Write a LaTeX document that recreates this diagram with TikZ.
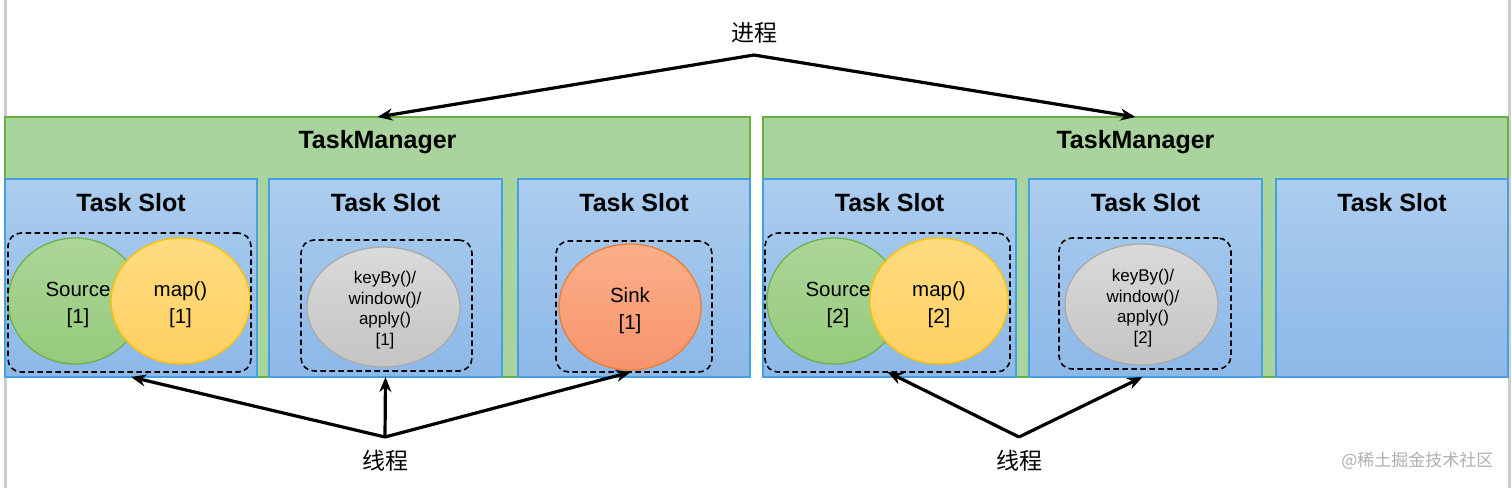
\documentclass[tikz,border=0pt]{standalone}
\usepackage{fontspec}
\setmainfont{Liberation Sans}
\newfontfamily\cjk{Noto Sans CJK SC}
\usetikzlibrary{shapes.geometric,arrows.meta}
\definecolor{tmfill}{RGB}{170,212,158}
\definecolor{tmline}{RGB}{106,172,70}
\definecolor{slottop}{RGB}{172,205,238}
\definecolor{slotbot}{RGB}{140,184,232}
\definecolor{slotline}{RGB}{70,160,222}
\definecolor{srctop}{RGB}{172,214,152}
\definecolor{srcbot}{RGB}{150,202,124}
\definecolor{srcline}{RGB}{110,176,74}
\definecolor{maptop}{RGB}{255,220,128}
\definecolor{mapbot}{RGB}{255,208,98}
\definecolor{mapline}{RGB}{255,192,0}
\definecolor{graytop}{RGB}{218,218,218}
\definecolor{graybot}{RGB}{196,196,196}
\definecolor{grayline}{RGB}{170,170,170}
\definecolor{sinktop}{RGB}{251,175,138}
\definecolor{sinkbot}{RGB}{247,148,108}
\definecolor{sinkline}{RGB}{237,125,49}
\definecolor{edgegray}{RGB}{205,205,205}
\definecolor{wmgray}{RGB}{175,175,175}
\tikzset{
  tmbox/.style={draw=tmline, fill=tmfill, line width=1.2pt, inner sep=0pt, outer sep=0pt, anchor=north west},
  slotbox/.style={draw=slotline, top color=slottop, bottom color=slotbot, line width=1.2pt, inner sep=0pt, outer sep=0pt, anchor=north west},
  groupbox/.style={draw=black, dash pattern=on 5.5pt off 3.5pt, line width=1.6pt, rounded corners=13pt, inner sep=0pt, outer sep=0pt, anchor=north west},
  opnode/.style={ellipse, line width=1.3pt, inner sep=0pt, outer sep=0pt},
  optext/.style={align=center, font=\fontsize{20.5}{27}\selectfont},
  smalltext/.style={align=center, font=\fontsize{17}{20.7}\selectfont},
  srcop/.style={opnode, draw=srcline, top color=srctop, bottom color=srcbot},
  mapop/.style={opnode, draw=mapline, top color=maptop, bottom color=mapbot},
  grayop/.style={opnode, draw=grayline, top color=graytop, bottom color=graybot},
  sinkop/.style={opnode, draw=sinkline, top color=sinktop, bottom color=sinkbot},
  titletext/.style={font=\fontsize{25}{30}\selectfont\bfseries},
  cntext/.style={font=\cjk\fontsize{23}{28}\selectfont},
  arr/.style={-{Stealth[length=15pt,width=12pt]}, line width=3.2pt, line join=round}
}
\begin{document}
\begin{tikzpicture}[x=1pt,y={(0pt,-1pt)}]
\useasboundingbox (0,0) rectangle (1512,488);
\fill[white] (0,0) rectangle (1512,488);
% screenshot edges
\fill[edgegray] (3.5,0) rectangle (7,488);
\fill[edgegray] (1508,0) rectangle (1511,488);

% TaskManagers
\node[tmbox, minimum width=745pt, minimum height=260pt] (tm1) at (5,117) {};
\node[tmbox, minimum width=745pt, minimum height=260pt] (tm2) at (763,117) {};
\node[titletext] (tm1t) at (377.5,142) {TaskManager};
\node[titletext] (tm2t) at (1135.5,142) {TaskManager};

% Slots
\node[slotbox, minimum width=252pt, minimum height=198pt] (s1) at (5,179) {};
\node[slotbox, minimum width=233pt, minimum height=198pt] (s2) at (269,179) {};
\node[slotbox, minimum width=232pt, minimum height=198pt] (s3) at (518,179) {};
\node[slotbox, minimum width=253pt, minimum height=198pt] (s4) at (763,179) {};
\node[slotbox, minimum width=233pt, minimum height=198pt] (s5) at (1029,179) {};
\node[slotbox, minimum width=232pt, minimum height=198pt] (s6) at (1276,179) {};
\node[titletext] (s1t) at (131,203) {Task Slot};
\node[titletext] (s2t) at (385.5,203) {Task Slot};
\node[titletext] (s3t) at (634,203) {Task Slot};
\node[titletext] (s4t) at (889.5,203) {Task Slot};
\node[titletext] (s5t) at (1145.5,203) {Task Slot};
\node[titletext] (s6t) at (1392,203) {Task Slot};

% Operators, TM1
\node[srcop, minimum width=134pt, minimum height=126pt] (src1) at (75,301) {};
\node[mapop, minimum width=139pt, minimum height=126pt] (map1) at (180.5,301) {};
\node[optext] (map1t) at (180.5,305) {map()\\{}[1]};
\node[optext] (src1t) at (78,305) {Source\\{}[1]};
\node[grayop, minimum width=153pt, minimum height=120pt] (key1) at (383.5,307) {};
\node[smalltext] (key1t) at (385,310) {keyBy()/\\window()/\\apply()\\{}[1]};
\node[sinkop, minimum width=142pt, minimum height=126pt] (sink1) at (630,307) {};
\node[optext] (sink1t) at (630,311) {Sink\\{}[1]};

% Operators, TM2
\node[srcop, minimum width=134pt, minimum height=126pt] (src2) at (834,301) {};
\node[mapop, minimum width=138pt, minimum height=126pt] (map2) at (939,301) {};
\node[optext] (map2t) at (939,305) {map()\\{}[2]};
\node[optext] (src2t) at (838,305) {Source\\{}[2]};
\node[grayop, minimum width=153pt, minimum height=121pt] (key2) at (1141.5,304.5) {};
\node[smalltext] (key2t) at (1143,308) {keyBy()/\\window()/\\apply()\\{}[2]};

% Dashed groups
\node[groupbox, minimum width=243pt, minimum height=139pt] (g1) at (8,233) {};
\node[groupbox, minimum width=171pt, minimum height=131pt] (g2) at (301,240) {};
\node[groupbox, minimum width=156pt, minimum height=131pt] (g3) at (556,241) {};
\node[groupbox, minimum width=245pt, minimum height=139pt] (g4) at (765,233) {};
\node[groupbox, minimum width=172pt, minimum height=131pt] (g5) at (1059,238) {};

% Labels and arrows
\node[cntext] (proc) at (754,33) {进程};
\node[cntext] (thr1) at (385,461) {线程};
\node[cntext] (thr2) at (1019,461) {线程};
\coordinate (pa) at (754,55);
\coordinate (ta1) at (385,437);
\coordinate (ta2) at (1019,437);

\draw[arr] (pa) -- (tm1.north);
\draw[arr] (pa) -- (tm2.north);
\draw[arr] (ta1) -- (s1.south);
\draw[arr] (ta1) -- (s2.south);
\draw[arr] (ta1) -- ([xshift=-3pt]g3.south);
\draw[arr] (ta2) -- (g4.south);
\draw[arr] (ta2) -- ([xshift=-3pt]s5.south);

% watermark
\node[font=\cjk\fontsize{17}{20}\selectfont, text=wmgray, anchor=east] (wm) at (1497,461) {@稀土掘金技术社区};
\end{tikzpicture}
\end{document}
